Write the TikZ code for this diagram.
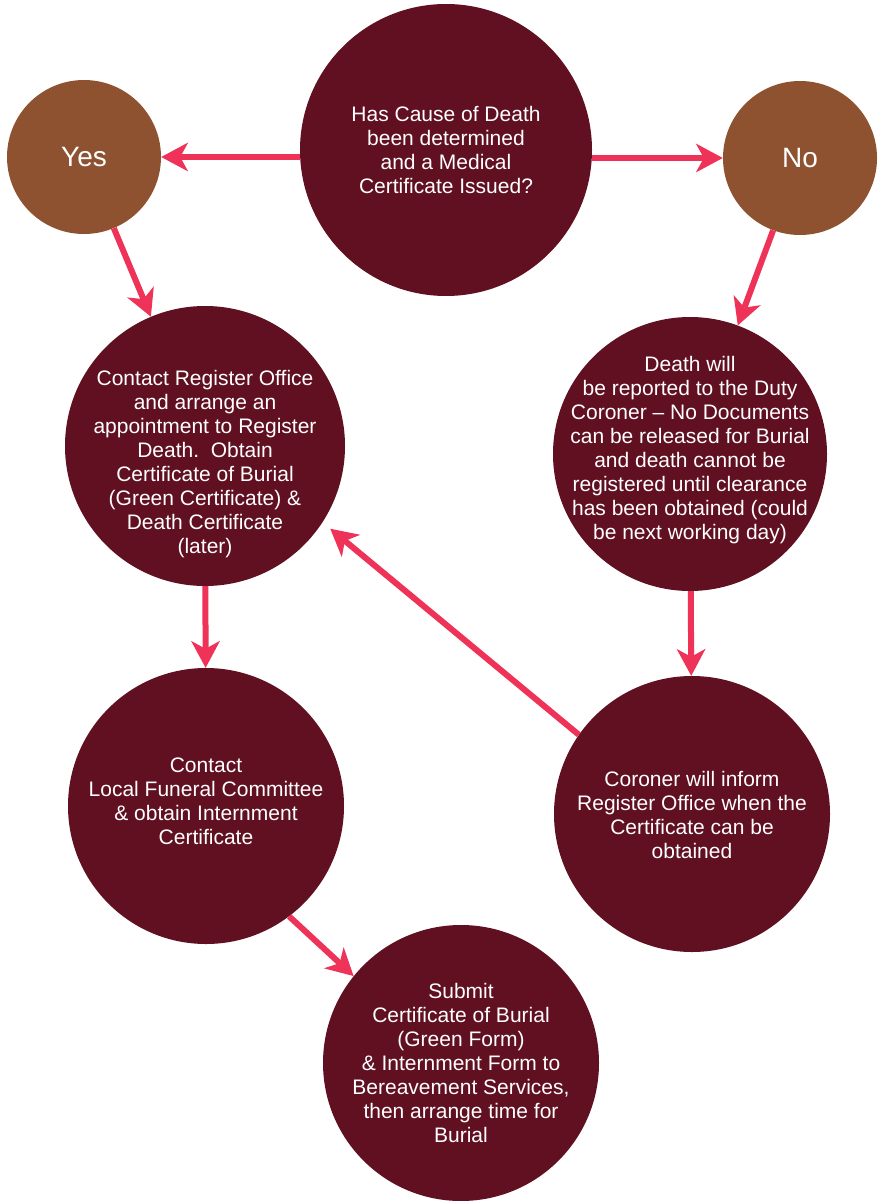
\documentclass[tikz,border=0pt]{standalone}
\usepackage{fontspec}
\setmainfont{Liberation Sans}
\usetikzlibrary{arrows.meta}
\definecolor{wine}{RGB}{96,16,32}
\definecolor{rust}{RGB}{143,82,48}
\definecolor{flow}{RGB}{238,50,88}

\begin{document}
\begin{tikzpicture}[x=1pt,y=-1pt]
  \tikzstyle{bubble}=[circle,fill=wine,inner sep=0pt,minimum size=276pt]
  \tikzstyle{answer}=[circle,fill=rust,inner sep=0pt,minimum size=154pt,
                      text=white,font=\fontsize{28}{32}\selectfont]
  \tikzstyle{txt}=[text=white,align=center,font=\fontsize{21}{24}\selectfont]
  \tikzstyle{link}=[draw=flow,line width=6pt,
                    -{Stealth[length=27pt,width=29pt,inset=8pt,line width=0pt,fill=flow]}]

  \useasboundingbox (0,0) rectangle (878,1201);

  \node[bubble,minimum size=292pt] (q) at (446,150) {};
  \node[txt] (qtext) at (q) {Has Cause of Death\\been determined\\and a Medical\\Certificate Issued?};
  \node[answer] (yes) at (84,157) {Yes};
  \node[answer] (no) at (800,158) {No};

  \node[bubble,minimum size=280pt] (reg) at (205,446) {};
  \node[txt] (regtext) at (205,464) {Contact Register Office\\and arrange an\\appointment to Register\\Death.\ \ Obtain\\Certificate of Burial\\(Green Certificate) \&\\Death Certificate\\(later)};
  \node[bubble,minimum size=274pt] (death) at (690,454) {};
  \node[txt] (deathtext) at (690,450) {Death will\\be reported to the Duty\\Coroner -- No Documents\\can be released for Burial\\and death cannot be\\registered until clearance\\has been obtained (could\\be next working day)};

  \node[bubble] (contact) at (206,806) {};
  \node[txt] (contacttext) at (206,801) {Contact\\Local Funeral Committee\\\& obtain Internment\\Certificate};
  \node[bubble] (coroner) at (692,814) {};
  \node[txt] (coronertext) at (692,815) {Coroner will inform\\Register Office when the\\Certificate can be\\obtained};
  \node[bubble] (submit) at (461,1063) {};
  \node[txt] (submittext) at (461,1063) {Submit\\Certificate of Burial\\(Green Form)\\\& Internment Form to\\Bereavement Services,\\then arrange time for\\Burial};

  \draw[link] (q.west |- yes) -- (yes);
  \draw[link] (q.east |- no) -- (no);
  \draw[link] (yes) -- (reg);
  \draw[link] (no) -- (death);
  \draw[link] (reg) -- (contact);
  \draw[link] (death) -- (coroner);
  \draw[link,shorten >=10pt] (coroner.145) -- (reg.-33);
  \draw[link] (contact.-53) -- (submit.141);
\end{tikzpicture}
\end{document}
